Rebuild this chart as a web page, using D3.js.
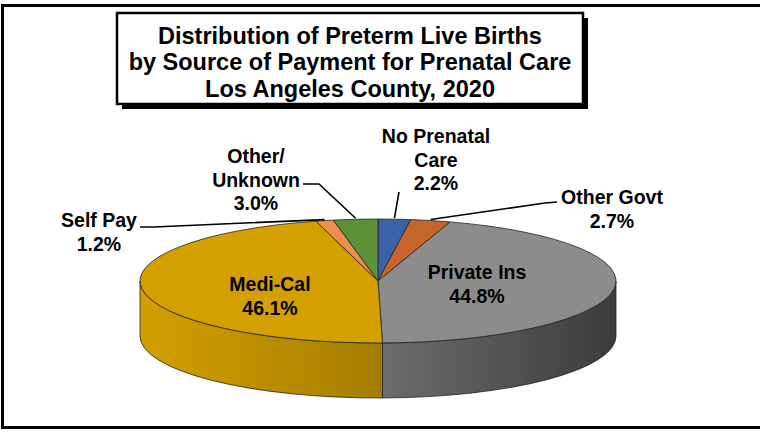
<!DOCTYPE html>
<html>
<head>
<meta charset="utf-8">
<script src="https://cdn.jsdelivr.net/npm/d3@7"></script>
<style>
  body { margin: 0; background: #fff; }
  svg { display: block; font-family: "Liberation Sans", Arial, sans-serif; font-weight: bold; }
</style>
</head>
<body>
<svg id="chart" width="760" height="435"></svg>
<script>
const WIDTH = 760
const HEIGHT = 435

// data
const categories = ['No Prenatal Care', 'Other Govt', 'Private Ins', 'Medi-Cal', 'Self Pay', 'Other/Unknown'];
const labelLines = [['No Prenatal', 'Care'], ['Other Govt'], ['Private Ins'], ['Medi-Cal'], ['Self Pay'], ['Other/', 'Unknown']];
const values = [2.2, 2.7, 44.8, 46.1, 1.2, 3.0];
const titleLines = ['Distribution of Preterm Live Births', 'by Source of Payment for Prenatal Care', 'Los Angeles County, 2020'];

const palette = ['#3b62a9', '#c7642b', '#8c8c8c', '#d4a000', '#ee8f4b', '#5b9237'];

// label layout (first line position + leader start points)
const labelLayout = {
    'No Prenatal Care': { x: 436, y: 136, leader: [[399, 192]] },
    'Other Govt': { x: 612, y: 197, leader: [[557, 202], [545, 203]] },
    'Private Ins': { x: 477, y: 272 },
    'Medi-Cal': { x: 270, y: 284 },
    'Self Pay': { x: 99, y: 220, leader: [[140, 227], [154, 227]] },
    'Other/Unknown': { x: 256, y: 156, leader: [[303, 184], [319, 184]] }
};

const svg = d3.select('#chart');

// outer border
svg.append('rect')
    .attr('x', 2.5).attr('y', 5.5)
    .attr('width', 780).attr('height', 422)
    .attr('fill', 'white').attr('stroke', 'black').attr('stroke-width', 3);

// title box with shadow
svg.append('rect')
    .attr('x', 122).attr('y', 18).attr('width', 466).attr('height', 91)
    .attr('fill', 'black');
svg.append('rect')
    .attr('x', 117).attr('y', 13).attr('width', 466).attr('height', 91)
    .attr('fill', 'white').attr('stroke', 'black').attr('stroke-width', 2.5);

svg.append('g')
    .selectAll('text')
    .data(titleLines)
    .join('text')
    .attr('x', 350)
    .attr('y', (d, i) => 44 + i * 26.3)
    .attr('text-anchor', 'middle')
    .attr('font-size', 23.5)
    .text(d => d);

// pie geometry
const cx = 378, cy = 281, rx = 238, ry = 62, depth = 55;

const pie = d3.pie().sort(null).value(d => d.value);
const arcs = pie(categories.map((c, i) => ({ name: c, value: values[i], lines: labelLines[i], color: palette[i] })));

const pt = (a, dy = 0) => [cx + rx * Math.sin(a), cy - ry * Math.cos(a) + dy];

const defs = svg.append('defs');
arcs.forEach((d, i) => {
    const g = defs.append('linearGradient')
        .attr('id', 'side' + i)
        .attr('gradientUnits', 'userSpaceOnUse')
        .attr('x1', cx - rx).attr('x2', cx + rx).attr('y1', 0).attr('y2', 0);
    const shade = d3.interpolateRgb(d.data.color, '#000');
    g.append('stop').attr('offset', 0).attr('stop-color', shade(0.0));
    g.append('stop').attr('offset', 0.5).attr('stop-color', shade(0.22));
    g.append('stop').attr('offset', 1).attr('stop-color', shade(0.58));
});

// side walls (front half only: angles PI/2 .. 3PI/2)
function sidePath(a0, a1) {
    const s = Math.max(a0, Math.PI / 2), e = Math.min(a1, Math.PI * 1.5);
    if (e <= s) return null;
    const p0 = pt(s), p1 = pt(e), q1 = pt(e, depth), q0 = pt(s, depth);
    return `M${p0}A${rx},${ry} 0 0 1 ${p1}L${q1}A${rx},${ry} 0 0 0 ${q0}Z`;
}

svg.append('g')
    .selectAll('path')
    .data(arcs.filter(d => sidePath(d.startAngle, d.endAngle)))
    .join('path')
    .attr('d', d => sidePath(d.startAngle, d.endAngle))
    .attr('fill', d => `url(#side${d.index})`)
    .attr('stroke', '#222')
    .attr('stroke-width', 0.8);

// top faces
function topPath(a0, a1) {
    const p0 = pt(a0), p1 = pt(a1);
    const large = (a1 - a0) > Math.PI ? 1 : 0;
    return `M${cx},${cy}L${p0}A${rx},${ry} 0 ${large} 1 ${p1}Z`;
}

svg.append('g')
    .selectAll('path')
    .data(arcs)
    .join('path')
    .attr('d', d => topPath(d.startAngle, d.endAngle))
    .attr('fill', d => d.data.color)
    .attr('stroke', '#222')
    .attr('stroke-width', 0.8)
    .attr('stroke-linejoin', 'round');

// leader lines
const labelled = arcs.filter(d => labelLayout[d.data.name].leader);
svg.append('g')
    .selectAll('path')
    .data(labelled)
    .join('path')
    .attr('fill', 'none')
    .attr('stroke', 'black')
    .attr('stroke-width', 1.6)
    .attr('d', d => {
        const mid = (d.startAngle + d.endAngle) / 2;
        return d3.line()(labelLayout[d.data.name].leader.concat([pt(mid, -1)]));
    });

// labels
const labels = svg.append('g')
    .selectAll('text')
    .data(arcs)
    .join('text')
    .attr('text-anchor', 'middle')
    .attr('font-size', 19.5);

labels.selectAll('tspan')
    .data(d => d.data.lines.concat([d3.format('.1f')(d.data.value) + '%']).map(t => ({ t, d })))
    .join('tspan')
    .attr('x', o => labelLayout[o.d.data.name].x)
    .attr('y', (o, i) => labelLayout[o.d.data.name].y + 7 + i * 23.5)
    .text(o => o.t);
</script>
</body>
</html>
